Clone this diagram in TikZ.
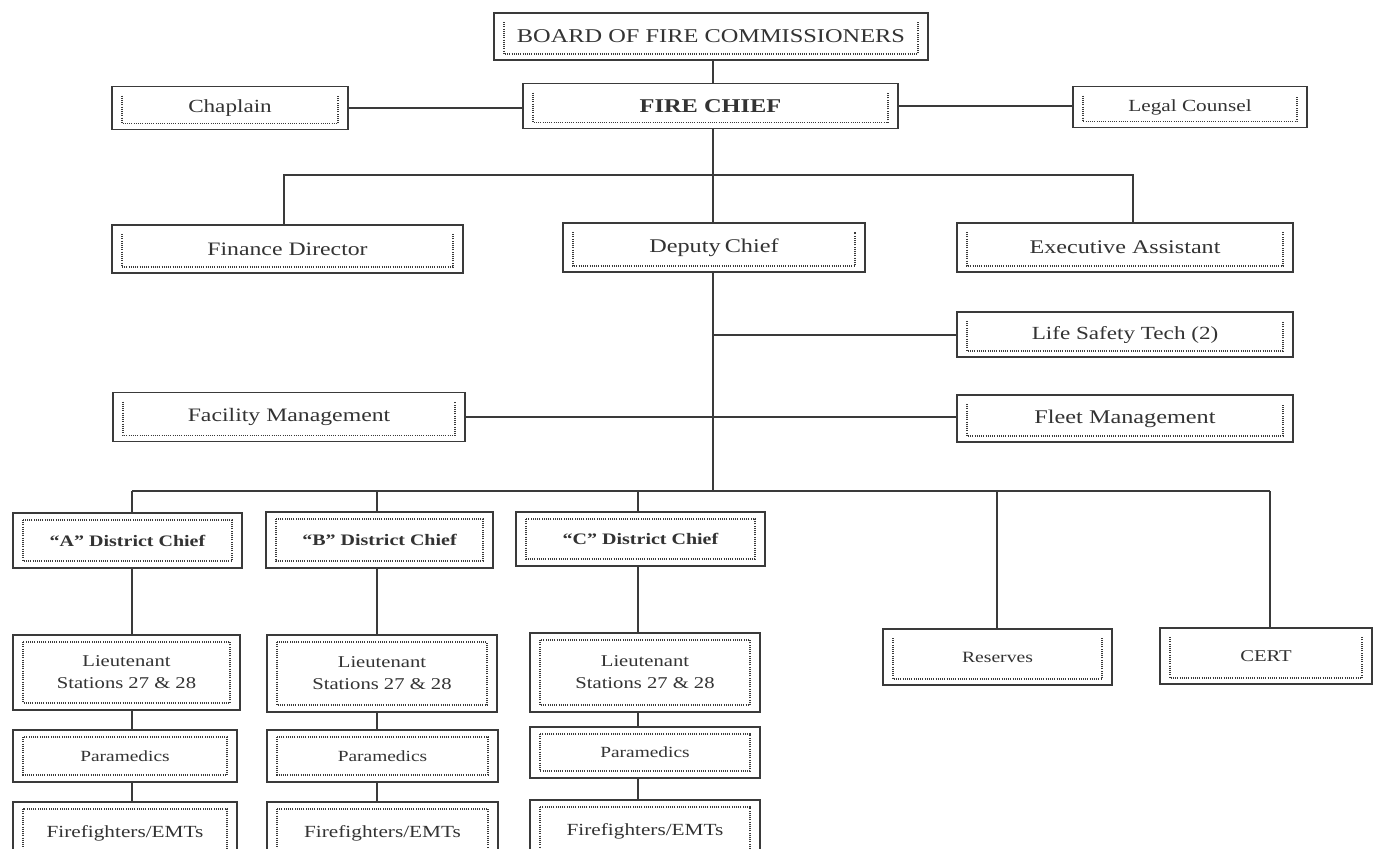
\documentclass[tikz,border=0pt]{standalone}
\usepackage{fontspec}
\setmainfont[FakeStretch=1.25]{Liberation Serif}
\usetikzlibrary{calc}
\definecolor{ink}{HTML}{3A3A3A}
\definecolor{txt}{HTML}{333333}
\tikzset{
  box/.style={draw=ink, line width=1.8pt, fill=white, inner sep=0pt, align=center, text=txt,
    path picture={\draw[ink, line width=1.1pt, dash pattern=on 1pt off 1.2pt]
      ([xshift=10pt,yshift=-9pt]path picture bounding box.north west) --
      ([xshift=10pt,yshift=6pt]path picture bounding box.south west) --
      ([xshift=-10pt,yshift=6pt]path picture bounding box.south east) --
      ([xshift=-10pt,yshift=-9pt]path picture bounding box.north east);}},
  fbox/.style={draw=ink, line width=1.8pt, fill=white, inner sep=0pt, align=center, text=txt,
    path picture={\draw[ink, line width=1.1pt, dash pattern=on 1pt off 1.2pt]
      ([xshift=10pt,yshift=-7pt]path picture bounding box.north west) rectangle
      ([xshift=-10pt,yshift=7pt]path picture bounding box.south east);}},
  conn/.style={draw=ink, line width=1.8pt},
}
\newcommand{\fs}[1]{\fontsize{#1}{#1}\selectfont}
\begin{document}
\begin{tikzpicture}[x=1pt,y=-1pt]
\useasboundingbox (0,0) rectangle (1374,849);
\clip (0,0) rectangle (1374,849);
% top
\node[box, minimum width=434pt, minimum height=47pt] (board) at (711,36.5) {\fs{19.5}BOARD OF FIRE COMMISSIONERS};
\node[box, minimum width=375pt, minimum height=45pt] (chief) at (710.5,106) {\fs{19.5}\bfseries FIRE CHIEF};
\node[box, minimum width=236pt, minimum height=43pt] (chaplain) at (230,108) {\fs{18.5}Chaplain};
\node[box, minimum width=234pt, minimum height=41pt] (legal) at (1190,107) {\fs{17}Legal Counsel};
\node[box, minimum width=351pt, minimum height=48pt] (finance) at (287.5,249) {\fs{19}Finance Director};
\node[box, minimum width=302pt, minimum height=49pt] (deputy) at (714,247.5) {\fs{19.4}Deputy\hspace{-2pt} Chief};
\node[box, minimum width=336pt, minimum height=49pt] (exec) at (1125,247.5) {\fs{19.3}Executive Assistant};
\node[box, minimum width=336pt, minimum height=45pt] (life) at (1125,334.5) {\fs{18.5}Life Safety Tech (2)};
\node[box, minimum width=352pt, minimum height=49pt] (facility) at (289,417) {\fs{19}Facility Management};
\node[box, minimum width=336pt, minimum height=47pt] (fleet) at (1125,418.5) {\fs{19.4}Fleet Management};
% districts
\node[fbox, minimum width=229pt, minimum height=55pt] (dA) at (127.5,540.5) {\fs{16}\bfseries “A” District Chief};
\node[fbox, minimum width=227pt, minimum height=56pt] (dB) at (379.5,540) {\fs{16}\bfseries “B” District Chief};
\node[fbox, minimum width=249pt, minimum height=54pt] (dC) at (640.5,539) {\fs{16}\bfseries “C” District Chief};
\node[box, minimum width=229pt, minimum height=56pt] (res) at (997.5,657) {\fs{15.7}Reserves};
\node[box, minimum width=212pt, minimum height=56pt] (cert) at (1266,656) {\fs{16.5}CERT};
% columns
\node[fbox, minimum width=227pt, minimum height=75pt] (ltA) at (126.5,672.5) {\fs{16.5}Lieutenant\\[10pt]\fs{16.5}Stations 27 \& 28};
\node[fbox, minimum width=230pt, minimum height=77pt] (ltB) at (382,673.5) {\fs{16.5}Lieutenant\\[10pt]\fs{16.5}Stations 27 \& 28};
\node[fbox, minimum width=230pt, minimum height=79pt] (ltC) at (645,672.5) {\fs{16.5}Lieutenant\\[10pt]\fs{16.5}Stations 27 \& 28};
\node[fbox, minimum width=224pt, minimum height=52pt] (pmA) at (125,756) {\fs{15.5}Paramedics};
\node[fbox, minimum width=231pt, minimum height=52pt] (pmB) at (382.5,756) {\fs{15.5}Paramedics};
\node[fbox, minimum width=230pt, minimum height=51pt] (pmC) at (645,752.5) {\fs{15.5}Paramedics};
\node[fbox, minimum width=224pt, minimum height=62pt] (ffA) at (125,833) {\fs{17}Firefighters/EMTs};
\node[fbox, minimum width=231pt, minimum height=62pt] (ffB) at (382.5,833) {\fs{17}Firefighters/EMTs};
\node[fbox, minimum width=230pt, minimum height=62pt] (ffC) at (645,831) {\fs{17}Firefighters/EMTs};
% junction coordinates
\coordinate (j1) at (713,175);
\coordinate (jf) at (284,175);
\coordinate (je) at (1133,175);
\coordinate (jl) at (713,335);
\coordinate (jd) at (713,491);
\coordinate (bA) at (132,491);
\coordinate (bB) at (377,491);
\coordinate (bC) at (638,491);
\coordinate (bR) at (997,491);
\coordinate (bT) at (1270,491);
% connectors
\draw[conn] (board.south -| j1) -- (chief.north -| j1);
\draw[conn] (chaplain.east) -- (chaplain.east -| chief.west);
\draw[conn] (chief.east) -- (chief.east -| legal.west);
\draw[conn] (chief.south -| j1) -- (deputy.north -| j1);
\draw[conn] (finance.north -| jf) -- (jf) -- (je) -- (exec.north -| je);
\draw[conn] (deputy.south -| j1) -- (jd);
\draw[conn] (jl) -- (jl -| life.west);
\draw[conn] (facility.east) -- (facility.east -| fleet.west);
\draw[conn] (bA) -- (bT);
\draw[conn] (bA) -- (dA.north -| bA);
\draw[conn] (bB) -- (dB.north -| bB);
\draw[conn] (bC) -- (dC.north -| bC);
\draw[conn] (bR) -- (res.north -| bR);
\draw[conn] (bT) -- (cert.north -| bT);
\draw[conn] (dA.south -| bA) -- (ltA.north -| bA);
\draw[conn] (ltA.south -| bA) -- (pmA.north -| bA);
\draw[conn] (pmA.south -| bA) -- (ffA.north -| bA);
\draw[conn] (dB.south -| bB) -- (ltB.north -| bB);
\draw[conn] (ltB.south -| bB) -- (pmB.north -| bB);
\draw[conn] (pmB.south -| bB) -- (ffB.north -| bB);
\draw[conn] (dC.south -| bC) -- (ltC.north -| bC);
\draw[conn] (ltC.south -| bC) -- (pmC.north -| bC);
\draw[conn] (pmC.south -| bC) -- (ffC.north -| bC);
\end{tikzpicture}
\end{document}
